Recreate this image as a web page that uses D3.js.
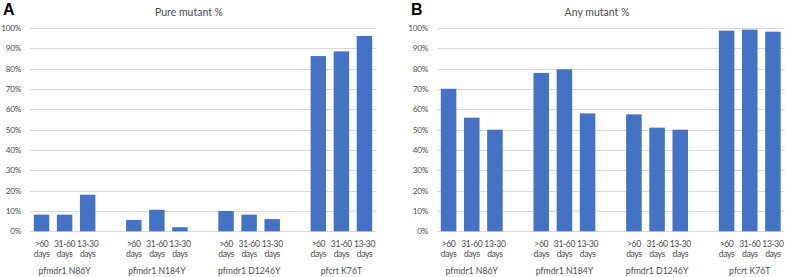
<!DOCTYPE html>
<html>
<head>
<meta charset="utf-8">
<script src="https://cdn.jsdelivr.net/npm/d3@7"></script>
<style>
  html, body { margin: 0; padding: 0; background: #fff; }
  svg { display: block; font-family: Lato, "Open Sans", sans-serif; }
</style>
</head>
<body>
<div id="chart-area"></div>
<script>
// Categories on the two-level x axis
const groups = ['pfmdr1 N86Y', 'pfmdr1 N184Y', 'pfmdr1 D1246Y', 'pfcrt K76T'];
const periods = ['>60 days', '31-60 days', '13-30 days'];

// Series values (%), one row per group, one value per period
const pureMutant = [
    [8.2, 8.2, 18.0],
    [5.6, 10.6, 2.0],
    [10.0, 8.2, 6.0],
    [86.2, 88.5, 96.1]
];
const anyMutant = [
    [70.1, 55.9, 50.0],
    [77.9, 79.7, 58.0],
    [57.5, 51.0, 50.0],
    [98.7, 99.2, 98.2]
];

const yTicks = [0, 10, 20, 30, 40, 50, 60, 70, 80, 90, 100];

const WIDTH = 785;
const HEIGHT = 277;
const BAR_COLOR = '#4472c4';
const GRID_COLOR = '#d9d9d9';
const TEXT_COLOR = '#4d4d4d';

const svg = d3.select('#chart-area').append('svg')
    .attr('width', WIDTH)
    .attr('height', HEIGHT);

// One panel per series
const panels = [
    {letter: 'A', title: 'Pure mutant %', values: pureMutant, left: 30, right: 376, titleX: 189, letterX: 3},
    {letter: 'B', title: 'Any mutant %', values: anyMutant, left: 437, right: 784.5, titleX: 597, letterX: 411}
];

const TOP = 28;
const BOTTOM = 231.3;

panels.forEach(p => {
    const g = svg.append('g');

    const yScale = d3.scaleLinear()
        .domain([0, 100])
        .range([BOTTOM, TOP]);

    // Groups take 3 slots each with one empty slot between them
    const xGroup = d3.scaleBand()
        .domain(groups)
        .range([p.left, p.right])
        .paddingInner(0.25)
        .paddingOuter(0);

    const xPeriod = d3.scaleBand()
        .domain(periods)
        .range([0, xGroup.bandwidth()])
        .paddingInner(0.33)
        .paddingOuter(0.165);

    // Gridlines
    g.selectAll('line.grid')
        .data(yTicks)
        .enter()
        .append('line')
        .attr('class', 'grid')
        .attr('x1', p.left)
        .attr('x2', p.right)
        .attr('y1', d => Math.round(yScale(d)) + 0.5)
        .attr('y2', d => Math.round(yScale(d)) + 0.5)
        .attr('stroke', GRID_COLOR)
        .attr('stroke-width', 1);

    // Y tick labels
    const yAxis = d3.axisLeft(yScale)
        .tickValues(yTicks)
        .tickSize(0)
        .tickPadding(9)
        .tickFormat(d => `${d}%`);
    const yAxisG = g.append('g')
        .attr('transform', `translate(${p.left},0)`)
        .call(yAxis);
    yAxisG.select('.domain').remove();
    yAxisG.selectAll('text')
        .attr('fill', TEXT_COLOR)
        .attr('font-size', '8.2px')
        .attr('letter-spacing', '-0.25px')
        .attr('font-family', 'Lato, sans-serif');

    // Bars
    const rows = groups.map((grp, gi) => periods.map((per, pi) => ({group: grp, period: per, value: p.values[gi][pi]})));
    const groupG = g.selectAll('g.group')
        .data(rows)
        .enter()
        .append('g')
        .attr('class', 'group')
        .attr('transform', (d, i) => `translate(${xGroup(groups[i])},0)`);

    groupG.selectAll('rect')
        .data(d => d)
        .enter()
        .append('rect')
        .attr('x', d => xPeriod(d.period))
        .attr('y', d => yScale(d.value))
        .attr('width', xPeriod.bandwidth())
        .attr('height', d => BOTTOM - yScale(d.value))
        .attr('fill', BAR_COLOR);

    // Period labels, two lines each
    const perLabel = groupG.selectAll('text.period')
        .data(d => d)
        .enter()
        .append('text')
        .attr('class', 'period')
        .attr('x', d => xPeriod(d.period) + xPeriod.bandwidth() / 2)
        .attr('y', 246.5)
        .attr('text-anchor', 'middle')
        .attr('font-size', '8.6px')
        .attr('letter-spacing', '-0.4px')
        .attr('fill', TEXT_COLOR);
    perLabel.each(function (d) {
        const parts = d.period.split(' ');
        const t = d3.select(this);
        parts.forEach((w, i) => {
            t.append('tspan')
                .attr('x', xPeriod(d.period) + xPeriod.bandwidth() / 2)
                .attr('dy', i === 0 ? 0 : 10)
                .text(w);
        });
    });

    // Group labels
    g.selectAll('text.grouplabel')
        .data(groups)
        .enter()
        .append('text')
        .attr('class', 'grouplabel')
        .attr('x', d => xGroup(d) + xGroup.bandwidth() / 2)
        .attr('y', 274)
        .attr('text-anchor', 'middle')
        .attr('font-size', '8.7px')
        .attr('fill', TEXT_COLOR)
        .text(d => d);

    // Title
    g.append('text')
        .attr('x', p.titleX)
        .attr('y', 16)
        .attr('text-anchor', 'middle')
        .attr('font-size', '10.5px')
        .attr('fill', TEXT_COLOR)
        .text(p.title);

    // Panel letter
    g.append('text')
        .attr('x', p.letterX)
        .attr('y', 15)
        .attr('font-size', '16px')
        .attr('font-weight', 'bold')
        .attr('font-family', '"Liberation Sans", Arial, sans-serif')
        .attr('fill', '#000')
        .text(p.letter);
});
</script>
</body>
</html>
